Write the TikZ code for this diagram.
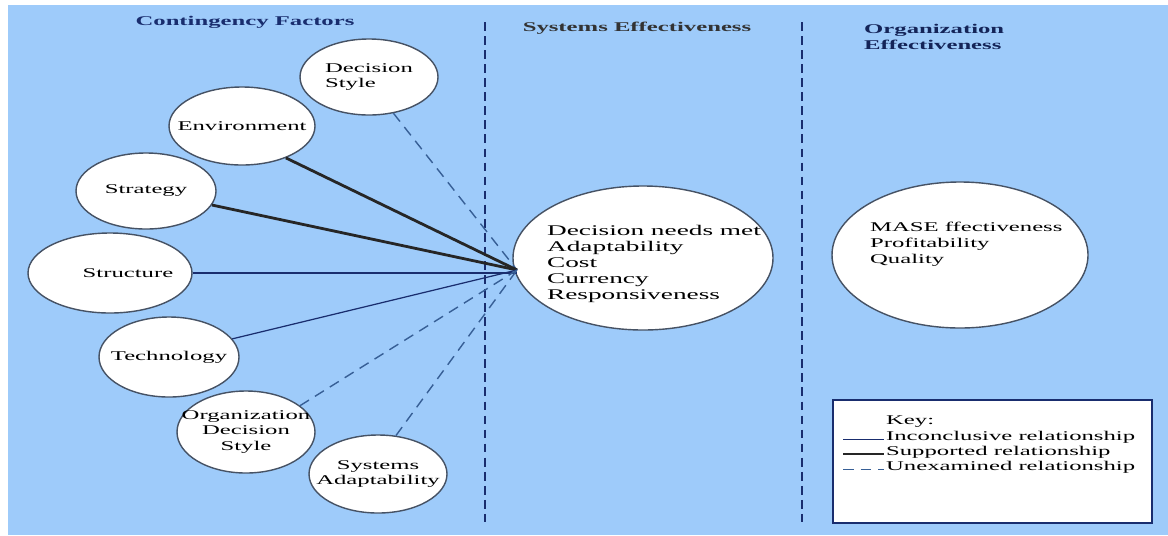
\documentclass[tikz,border=0pt]{standalone}
\usepackage{fontspec}
\setmainfont{Liberation Serif}[FakeStretch=1.85]
\usepackage{tikz}
\usetikzlibrary{shapes.geometric}

\definecolor{bgblue}{RGB}{158,203,250}
\definecolor{navy}{RGB}{25,45,110}
\definecolor{rim}{RGB}{70,82,100}
\definecolor{dashblue}{RGB}{55,95,150}

\tikzset{
	factor/.style={ellipse,draw=rim,thick,fill=white,inner xsep=-10pt,inner ysep=0pt,align=left,
		font=\fontsize{7.6}{9}\selectfont},
	sz/.style 2 args={minimum width=#1*0.02cm,minimum height=#2*0.02cm},
	plain/.style={inner sep=1pt,align=left,font=\fontsize{7.6}{9}\selectfont},
	heading/.style={font=\bfseries\fontsize{7.6}{9}\selectfont,align=left},
	inconclusive/.style={draw=navy,line width=0.7pt},
	supported/.style={draw=black!85,line width=1.6pt},
	unexamined/.style={draw=dashblue,line width=0.8pt,dash pattern=on 6pt off 4pt},
	divider/.style={draw=navy,line width=0.7pt,dash pattern=on 5pt off 3pt}
}

\begin{document}
\begin{tikzpicture}[x=0.02cm,y=-0.02cm]
			\useasboundingbox (0,0) rectangle (1168,535);
			\fill[bgblue] (8,5) rectangle (1168,535);
			
			% columns
			
			\draw[divider] (485,22) -- (485,522);
			\draw[divider] (802,22) -- (802,522);
			\node[heading,text=navy] (hcf) at (245,22) {Contingency Factors};
			\node[heading,text=black!80] (hse) at (637,28) {Systems Effectiveness};
			\node[heading,text=navy!80!black,anchor=north west] (hoe) at (858,18) {Organization\\Effectiveness};
			
			% contingency factors
			
			\node[factor,sz={138}{76}] (dstyle) at (369,77) {Decision\\Style};
			\node[factor,sz={146}{78}] (env) at (242,126) {Environment};
			\node[factor,sz={140}{76}] (strat) at (146,191) {Strategy};
			\node[factor,sz={164}{80}] (struct) at (110,273) {};
			\node[plain] (structtext) at (128,273) {Structure};
			\node[factor,sz={140}{80}] (tech) at (169,357) {Technology};
			\node[factor,sz={138}{82},align=center] (odstyle) at (246,432) {Organization\\Decision\\Style};
			\node[factor,sz={138}{78},align=center] (sadapt) at (378,474) {Systems\\Adaptability};
			
			% systems and organization effectiveness
			
			\node[factor,sz={260}{144}] (seff) at (643,258) {};
			\node[plain,anchor=north west,font=\fontsize{8.4}{9.1}\selectfont] (setext) at (545,223) {Decision needs met\\Adaptability\\Cost\\Currency\\Responsiveness};
			\node[factor,sz={256}{146}] (oeff) at (960,255) {};
			\node[plain,anchor=north west] (oetext) at (868,220) {MASE ffectiveness\\Profitability\\Quality};
			
			\coordinate (hub) at (517,270);
			\draw[unexamined] (dstyle.-56) -- (hub);
			\draw[supported] (env.-36) -- (hub);
			\draw[supported] (strat.-12) -- (hub);
			\draw[inconclusive] (struct.east) -- (hub|-struct.east);
			\draw[inconclusive] (tech.16) -- (hub);
			\draw[unexamined] (odstyle.26) -- (hub);
			\draw[unexamined] (sadapt.65) -- (hub);
			
			% key
			
			\node[draw=navy,line width=0.9pt,fill=white,sz={319}{123},inner sep=0pt] (key) at (992.5,461.5) {};
			\node[plain,anchor=west] (kkey) at (884,422) {Key:};
			\node[plain,anchor=west] (kinc) at (884,437) {Inconclusive relationship};
			\node[plain,anchor=west] (ksup) at (884,452) {Supported relationship};
			\node[plain,anchor=west] (kune) at (884,467) {Unexamined relationship};
			\coordinate (linc) at (843,439);
			\coordinate (lsup) at (843,454);
			\coordinate (lune) at (843,469);
			\draw[inconclusive,line width=0.5pt] (linc) -- (kinc.west|-linc);
			\draw[supported] (lsup) -- (ksup.west|-lsup);
			\draw[unexamined,line width=0.5pt] (lune) -- (kune.west|-lune);
		\end{tikzpicture}
\end{document}
